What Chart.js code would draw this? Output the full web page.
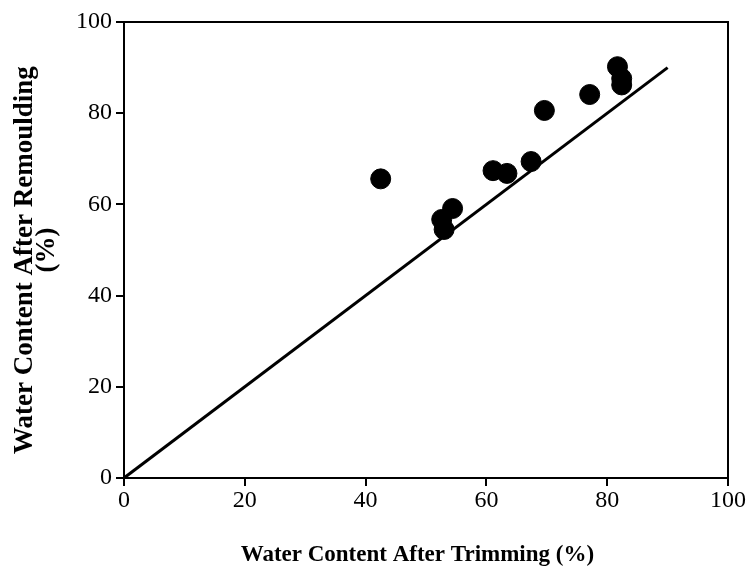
<!DOCTYPE html>
<html>
<head>
<meta charset="utf-8">
<script src="https://cdn.jsdelivr.net/npm/chart.js@4.4.1/dist/chart.umd.min.js"></script>
<style>
  html, body { margin: 0; padding: 0; background: #fff; }
  #wrap { width: 751px; height: 577px; }
</style>
</head>
<body>
<div id="wrap"><canvas id="chart"></canvas></div>
<script>
// Données
const trimmed = [42.5, 52.6, 53.0, 54.4, 61.1, 63.4, 67.4, 69.6, 77.1, 81.7, 82.4, 82.4];
const remoulded = [65.6, 56.7, 54.5, 59.1, 67.4, 66.8, 69.4, 80.6, 84.1, 90.2, 87.6, 86.2];
const lineX = [0, 90];
const lineY = [0, 90];
const xTicks = [0, 20, 40, 60, 80, 100];
const yTicks = [0, 20, 40, 60, 80, 100];

const points = trimmed.map((x, i) => ({ x: x, y: remoulded[i] }));
const linePoints = lineX.map((x, i) => ({ x: x, y: lineY[i] }));

// Cadre complet autour de la zone du graphique
const frame = {
  id: 'frame',
  afterDraw(chart) {
    const { ctx, chartArea } = chart;
    ctx.save();
    ctx.strokeStyle = '#000';
    ctx.lineWidth = 2;
    ctx.strokeRect(chartArea.left, chartArea.top, chartArea.right - chartArea.left, chartArea.bottom - chartArea.top);
    ctx.restore();
  }
};

const serif = '"Liberation Serif", "Times New Roman", serif';
const tickFont = { family: serif, size: 24 };

new Chart(document.getElementById('chart'), {
  type: 'scatter',
  data: {
    datasets: [
      {
        type: 'line',
        data: linePoints,
        borderColor: '#000',
        borderWidth: 3,
        pointRadius: 0,
        fill: false
      },
      {
        data: points,
        backgroundColor: '#000',
        borderColor: '#000',
        pointRadius: 10,
        pointHoverRadius: 10
      }
    ]
  },
  options: {
    responsive: true,
    maintainAspectRatio: false,
    animation: false,
    layout: { padding: { top: 22, right: 23, left: 0, bottom: 0 } },
    plugins: { legend: { display: false }, tooltip: { enabled: false } },
    scales: {
      x: {
        type: 'linear',
        min: 0,
        max: 100,
        afterBuildTicks: (scale) => { scale.ticks = xTicks.map(v => ({ value: v })); },
        afterFit: (scale) => { scale.height = 99; },
        grid: { drawOnChartArea: false, drawTicks: true, tickLength: 8, color: '#000', lineWidth: 2 },
        border: { display: true, color: '#000', width: 2 },
        ticks: { color: '#000', font: tickFont, padding: 0, maxRotation: 0 },
        title: {
          display: true,
          // espaces en fin de texte : le titre est un peu décalé à gauche dans l'original
          text: 'Water Content After Trimming (%)\u00a0\u00a0\u00a0',
          color: '#000',
          font: { family: serif, size: 23, weight: 'bold', lineHeight: 1.0 },
          padding: { top: 0, bottom: 10 }
        }
      },
      y: {
        type: 'linear',
        min: 0,
        max: 100,
        afterBuildTicks: (scale) => { scale.ticks = yTicks.map(v => ({ value: v })); },
        afterFit: (scale) => { scale.width = 124; },
        grid: { drawOnChartArea: false, drawTicks: true, tickLength: 8, color: '#000', lineWidth: 2 },
        border: { display: true, color: '#000', width: 2 },
        ticks: { color: '#000', font: tickFont, padding: 4 },
        title: {
          display: true,
          text: ['Water Content After Remoulding\u00a0\u00a0\u00a0', '(%)'],
          color: '#000',
          font: { family: serif, size: 27, weight: 'bold', lineHeight: 0.78 },
          padding: { top: 15, bottom: 0 }
        }
      }
    }
  },
  plugins: [frame]
});
</script>
</body>
</html>
